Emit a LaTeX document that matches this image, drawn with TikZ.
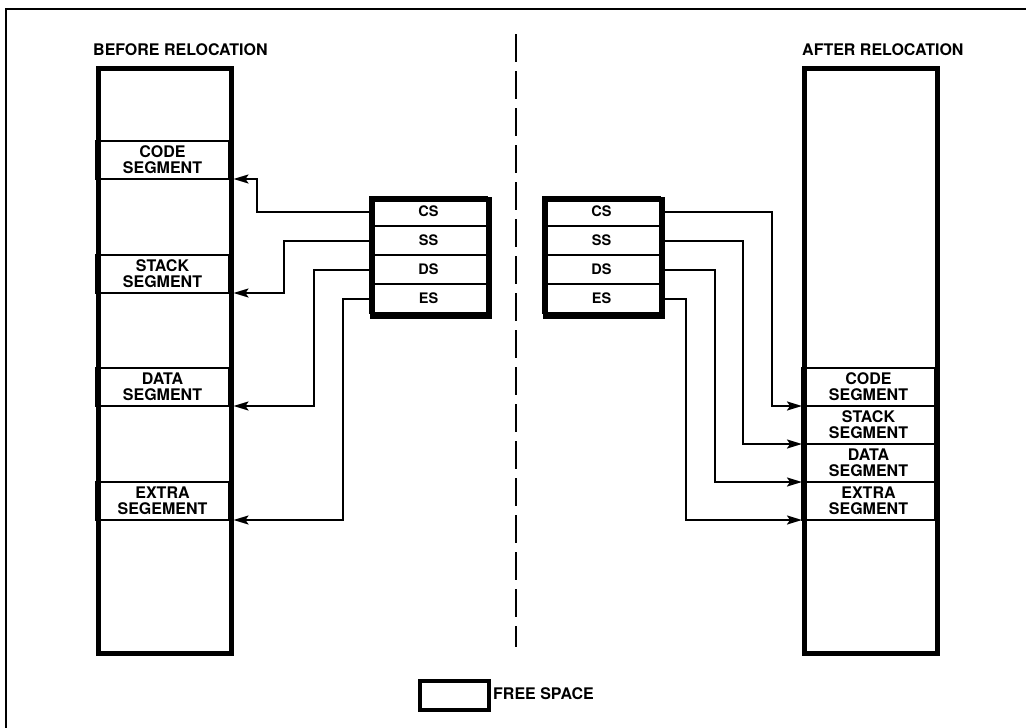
\documentclass[tikz,border=0pt]{standalone}
\usepackage{fontspec}
\setmainfont{TeX Gyre Heros}
\usetikzlibrary{arrows.meta}
\begin{document}
\begin{tikzpicture}[x=1pt,y=-1pt,
  lbl/.style={font=\bfseries\fontsize{16}{15.7}\selectfont, inner sep=0pt},
  seg/.style={draw, line width=2pt, minimum width=133pt, minimum height=38pt, align=center, inner sep=0pt, outer sep=0pt, font=\bfseries\fontsize{16}{15.7}\selectfont},
  reg/.style={draw, line width=2pt, minimum width=117pt, minimum height=29pt, inner sep=0pt, outer sep=0pt, font=\bfseries\fontsize{14.5}{15}\selectfont},
  mem/.style={draw, line width=4.5pt, minimum width=133pt, minimum height=585pt, anchor=north west, inner sep=0pt},
  regbox/.style={draw, line width=4.5pt, minimum width=117pt, minimum height=117pt, anchor=north west, inner sep=0pt},
  conn/.style={line width=2pt},
  arr/.style={line width=2pt, -{Stealth[length=15pt, width=9pt, inset=3pt]}}
]
\useasboundingbox (0,0) rectangle (1026,728);
% outer frame
\draw[line width=2pt] (6,728) -- (6,9) -- (1026,9);

% titles
\node[lbl, anchor=base west] (tb) at (93,55) {BEFORE RELOCATION};
\node[lbl, anchor=base west] (ta) at (802,55) {AFTER RELOCATION};

% left memory
\node[seg, anchor=north west] (lcode)  at (96,141) {CODE\\SEGMENT};
\node[seg, anchor=north west] (lstack) at (96,255) {STACK\\SEGMENT};
\node[seg, anchor=north west] (ldata)  at (96,368) {DATA\\SEGMENT};
\node[seg, anchor=north west] (lextra) at (96,482) {EXTRA\\SEGEMENT};
\node[mem] (lmem) at (96,66) {};

% right memory
\node[seg, anchor=north west] (rcode)  at (802,368) {CODE\\SEGMENT};
\node[seg, anchor=north west] (rstack) at (802,406) {STACK\\SEGMENT};
\node[seg, anchor=north west] (rdata)  at (802,444) {DATA\\SEGMENT};
\node[seg, anchor=north west] (rextra) at (802,482) {EXTRA\\SEGMENT};
\node[mem] (rmem) at (802,66) {};

% left registers
\node[reg, anchor=north west] (lcs) at (370,197) {CS};
\node[reg, anchor=north west] (lss) at (370,226) {SS};
\node[reg, anchor=north west] (lds) at (370,255) {DS};
\node[reg, anchor=north west] (les) at (370,284) {ES};
\node[regbox] (lregs) at (370,197) {};

% right registers
\node[reg, anchor=north west] (rcs) at (543,197) {CS};
\node[reg, anchor=north west] (rss) at (543,226) {SS};
\node[reg, anchor=north west] (rds) at (543,255) {DS};
\node[reg, anchor=north west] (res) at (543,284) {ES};
\node[regbox] (rregs) at (543,197) {};

% left connectors
\draw[arr] (lcs.west) -- ++(-113,0) |- (lcode.south -| lmem.east);
\draw[arr] (lss.west) -- ++(-86,0) |- (lstack.south -| lmem.east);
\draw[arr] (lds.west) -- ++(-56,0) |- (ldata.south -| lmem.east);
\draw[arr] (les.west) -- ++(-27,0) |- (lextra.south -| lmem.east);

% right connectors
\draw[arr] (rcs.east) -- ++(112,0) |- (rcode.south -| rmem.west);
\draw[arr] (rss.east) -- ++(83,0) |- (rstack.south -| rmem.west);
\draw[arr] (rds.east) -- ++(55,0) |- (rdata.south -| rmem.west);
\draw[arr] (res.east) -- ++(26,0) |- (rextra.south -| rmem.west);

% dashed separator
\coordinate (dtop) at (516,34);
\coordinate (dbot) at (516,647);
\draw[line width=2pt, dash pattern=on 28pt off 9pt] (dtop) -- (dbot);

% legend
\node[draw, line width=4pt, minimum width=69pt, minimum height=29pt, anchor=north west, inner sep=0pt] (leg) at (418,679) {};
\node[lbl, anchor=west] (legt) at (493,694) {FREE SPACE};
\end{tikzpicture}
\end{document}
